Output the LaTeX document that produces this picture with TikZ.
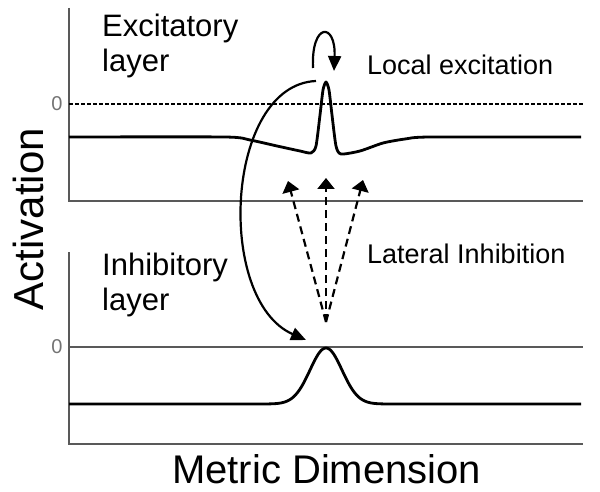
\documentclass[tikz,border=0pt]{standalone}
\usepackage{fontspec}
\setmainfont{Liberation Sans}
\usetikzlibrary{arrows.meta}

\tikzset{
  axe/.style={draw=black!65, line width=2pt},
  courbe/.style={line width=2.8pt, line join=round},
  fleche/.style={line width=2.2pt, -{Triangle[length=15pt,width=13pt]}},
  pointille/.style={line width=2.2pt, dash pattern=on 8pt off 5pt, -{Triangle[length=11pt,width=17pt]}},
  zero/.style={text=black!55, inner sep=0pt, font=\fontsize{20}{20}\selectfont},
  titre/.style={anchor=base west, inner sep=0pt, font=\fontsize{31}{35}\selectfont},
  legende/.style={anchor=base west, inner sep=0pt, font=\fontsize{27}{27}\selectfont},
}

\begin{document}
\begin{tikzpicture}[x=1pt,y=-1pt] % un point = un pixel, y vers le bas
\useasboundingbox (0,0) rectangle (600,492);

% couche excitatrice
\draw[axe] (69,8) -- (69,201) -- (583,201);
\draw[line width=2.6pt, dash pattern=on 4pt off 2pt] (69,104) -- (583,104);
\node[zero] (zeroE) at (57,104) {0};
\draw[courbe] plot[smooth, tension=0.4] coordinates {(69,137) (225,137) (250,140) (277,146) (300,151) (311,153) (316,146) (320,115) (323,90) (326,82) (329,90) (332,115) (336,146) (341,154) (360,151) (383,143) (405,139) (430,137) (581,137)};
\node[titre] (exc) at (102,37) {Excitatory};
\node[titre] (excb) at (102,72) {layer};
\node[legende] (locale) at (367,75) {Local excitation};

% couche inhibitrice
\draw[axe] (69,252) -- (69,444) -- (583,444);
\draw[axe] (69,347) -- (583,347);
\node[zero] (zeroI) at (57,347) {0};
\draw[courbe] (69,404) -- (256,404) plot[domain=256:396, samples=120] (\x, {404-56*exp(-((\x-326)/16)^2/2)}) -- (581,404);
\node[titre] (inh) at (102,275) {Inhibitory};
\node[titre] (inhb) at (102,310) {layer};
\node[legende] (laterale) at (367,263) {Lateral Inhibition};

% axes
\node[rotate=90, anchor=base, inner sep=0pt, font=\fontsize{42}{42}\selectfont] (act) at (43,219) {Activation};
\node[anchor=base west, inner sep=0pt, font=\fontsize{40}{40}\selectfont] (dim) at (172,483) {Metric Dimension};

% fleches
\coordinate (boucleA) at (313,68);
\coordinate (boucleB) at (334,71);
\coordinate (picE) at (316,81);
\coordinate (picI) at (306,340);
\coordinate (src) at (326,322);
\coordinate (cibleG) at (288,181);
\coordinate (cibleM) at (326,178);
\coordinate (cibleD) at (363,180);

\draw[fleche] (boucleA) .. controls (311,22) and (336,22) .. (boucleB);
\draw[fleche] (picE) .. controls (225,85) and (215,300) .. (picI);
\draw[pointille] (src) -- (cibleG);
\draw[pointille] (src) -- (cibleM);
\draw[pointille] (src) -- (cibleD);
\end{tikzpicture}
\end{document}
